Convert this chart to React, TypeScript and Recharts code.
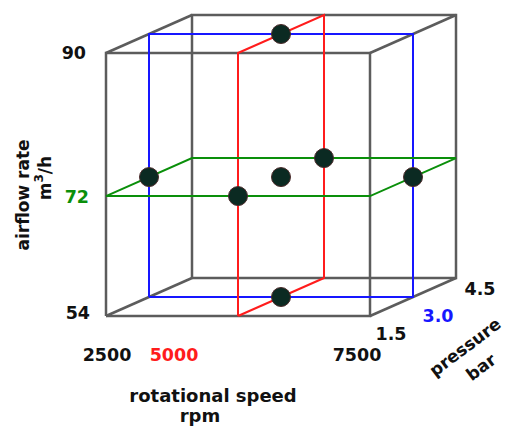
import { Customized, Scatter, ScatterChart, XAxis, YAxis } from "recharts";

// factor levels of the design
const SPEEDS = [2500, 5000, 7500]; // rpm
const AIRFLOWS = [54, 72, 90]; // m3/h
const PRESSURES = [1.5, 3.0, 4.5]; // bar
const PRESSURE_LABELS = ["1.5", "3.0", "4.5"];

// design points (speed, airflow, pressure)
const RUN_SPEED = [5000, 2500, 5000, 5000, 5000, 7500, 5000];
const RUN_AIRFLOW = [90, 72, 72, 72, 72, 72, 54];
const RUN_PRESSURE = [3.0, 3.0, 1.5, 3.0, 4.5, 3.0, 3.0];

const W = 505;
const H = 427;
// oblique projection of the cube
const FRONT_LEFT = 106;
const FRONT_BOTTOM = 316;
const BOX_W = 264;
const BOX_H = 263;
const DEPTH_DX = 86;
const DEPTH_DY = 38;
const AIRFLOW_MID_FRAC = 0.456; // the 72 plane sits a bit below the middle in the drawing

const FONT = "'DejaVu Sans', Verdana, sans-serif";
const GRAY = "#5c5c5c";
const BLUE = "#1717ff";
const RED = "#ff1c1c";
const GREEN = "#0a8f0a";
const BLACK = "#111";

const norm = (v: number, arr: number[]) => (v - arr[0]) / (arr[arr.length - 1] - arr[0]);

const normAirflow = (v: number) => {
  const [lo, mid, hi] = AIRFLOWS;
  if (v <= mid) return ((v - lo) / (mid - lo)) * AIRFLOW_MID_FRAC;
  return AIRFLOW_MID_FRAC + ((v - mid) / (hi - mid)) * (1 - AIRFLOW_MID_FRAC);
};

function project(speed: number, airflow: number, pressure: number) {
  const s = norm(speed, SPEEDS);
  const a = normAirflow(airflow);
  const d = norm(pressure, PRESSURES);
  return {
    u: s + (d * DEPTH_DX) / BOX_W,
    v: a + (d * DEPTH_DY) / BOX_H,
  };
}

const sLo = SPEEDS[0], sMid = SPEEDS[1], sHi = SPEEDS[2];
const aLo = AIRFLOWS[0], aMid = AIRFLOWS[1], aHi = AIRFLOWS[2];
const pLo = PRESSURES[0], pMid = PRESSURES[1], pHi = PRESSURES[2];

const path = (pts: number[][]) => pts.map(([s, a, p]) => project(s, a, p));

const boxEdges = [
  path([[sLo, aLo, pLo], [sHi, aLo, pLo], [sHi, aHi, pLo], [sLo, aHi, pLo], [sLo, aLo, pLo]]),
  path([[sLo, aLo, pHi], [sHi, aLo, pHi], [sHi, aHi, pHi], [sLo, aHi, pHi], [sLo, aLo, pHi]]),
  path([[sLo, aLo, pLo], [sLo, aLo, pHi]]),
  path([[sHi, aLo, pLo], [sHi, aLo, pHi]]),
  path([[sHi, aHi, pLo], [sHi, aHi, pHi]]),
  path([[sLo, aHi, pLo], [sLo, aHi, pHi]]),
];

const bluePlane = path([[sLo, aLo, pMid], [sHi, aLo, pMid], [sHi, aHi, pMid], [sLo, aHi, pMid], [sLo, aLo, pMid]]);
const redPlane = path([[sMid, aLo, pLo], [sMid, aLo, pHi], [sMid, aHi, pHi], [sMid, aHi, pLo], [sMid, aLo, pLo]]);
const greenPlane = path([[sLo, aMid, pLo], [sHi, aMid, pLo], [sHi, aMid, pHi], [sLo, aMid, pHi], [sLo, aMid, pLo]]);

const runs = RUN_SPEED.map((s, i) => project(s, RUN_AIRFLOW[i], RUN_PRESSURE[i]));

const noShape = () => <g />;

function RunDot(props: { cx?: number; cy?: number }) {
  const { cx, cy } = props;
  if (cx == null || cy == null) return <g />;
  return <circle cx={cx} cy={cy} r={9.5} fill="#0b2a22" stroke="#4a2a2a" strokeWidth={1} />;
}

// label anchor positions in the picture
const Y_TICK_POS = [
  { x: 90, y: 319 },
  { x: 89, y: 203 },
  { x: 86, y: 59 },
];
const Y_TICK_COLORS = [BLACK, GREEN, BLACK];
const X_TICK_POS = [107, 174, 357];
const X_TICK_COLORS = [BLACK, RED, BLACK];
const Z_TICK_POS = [
  { x: 391, y: 340 },
  { x: 438, y: 322 },
  { x: 480, y: 295 },
];
const Z_TICK_COLORS = [BLACK, BLUE, BLACK];

function Labels() {
  const tick = { fontFamily: FONT, fontWeight: "bold" as const, fontSize: 17.5 };
  return (
    <g>
      {AIRFLOWS.map((v, i) => (
        <text key={v} x={Y_TICK_POS[i].x} y={Y_TICK_POS[i].y} textAnchor="end" fill={Y_TICK_COLORS[i]} {...tick}>
          {v}
        </text>
      ))}
      {SPEEDS.map((v, i) => (
        <text key={v} x={X_TICK_POS[i]} y={361} textAnchor="middle" fill={X_TICK_COLORS[i]} {...tick}>
          {v}
        </text>
      ))}
      {PRESSURE_LABELS.map((t, i) => (
        <text key={t} x={Z_TICK_POS[i].x} y={Z_TICK_POS[i].y} textAnchor="middle" fill={Z_TICK_COLORS[i]} {...tick}>
          {t}
        </text>
      ))}
      <text x={213} y={402} textAnchor="middle" fill={BLACK} {...tick} fontSize={18}>
        rotational speed
      </text>
      <text x={200} y={422} textAnchor="middle" fill={BLACK} {...tick} fontSize={18}>
        rpm
      </text>
      <text
        x={23}
        y={195}
        textAnchor="middle"
        dominantBaseline="central"
        transform="rotate(-90 23 195)"
        fill={BLACK}
        {...tick}
        fontSize={17}
      >
        airflow rate
      </text>
      <text
        x={45}
        y={178}
        textAnchor="middle"
        dominantBaseline="central"
        transform="rotate(-90 45 178)"
        fill={BLACK}
        {...tick}
        fontSize={17}
      >
        <tspan>m</tspan>
        <tspan dy={-6} fontSize={12}>3</tspan>
        <tspan dy={6}>/h</tspan>
      </text>
      <text
        x={465}
        y={347}
        textAnchor="middle"
        dominantBaseline="central"
        transform="rotate(-37 465 347)"
        fill={BLACK}
        {...tick}
        fontSize={17}
      >
        pressure
      </text>
      <text
        x={481}
        y={367}
        textAnchor="middle"
        dominantBaseline="central"
        transform="rotate(-37 481 367)"
        fill={BLACK}
        {...tick}
        fontSize={17}
      >
        bar
      </text>
    </g>
  );
}

export default function App() {
  const xDomain = [-FRONT_LEFT / BOX_W, (W - FRONT_LEFT) / BOX_W];
  const yDomain = [-(H - FRONT_BOTTOM) / BOX_H, FRONT_BOTTOM / BOX_H];
  const lineSeries = [
    ...boxEdges.map((d) => ({ d, color: GRAY, w: 2.5 })),
    { d: bluePlane, color: BLUE, w: 2 },
    { d: redPlane, color: RED, w: 2 },
    { d: greenPlane, color: GREEN, w: 2 },
  ];
  return (
    <div style={{ position: "absolute", left: 0, top: 0, width: W, height: H, background: "#fff" }}>
      <ScatterChart width={W} height={H} margin={{ top: 0, right: 0, bottom: 0, left: 0 }}>
        <XAxis type="number" dataKey="u" domain={xDomain} allowDataOverflow hide />
        <YAxis type="number" dataKey="v" domain={yDomain} allowDataOverflow hide />
        {lineSeries.map((s, i) => (
          <Scatter
            key={i}
            data={s.d}
            line={{ stroke: s.color, strokeWidth: s.w }}
            lineType="joint"
            shape={noShape}
            isAnimationActive={false}
          />
        ))}
        <Scatter data={runs} shape={<RunDot />} isAnimationActive={false} />
        <Customized component={Labels} />
      </ScatterChart>
    </div>
  );
}
